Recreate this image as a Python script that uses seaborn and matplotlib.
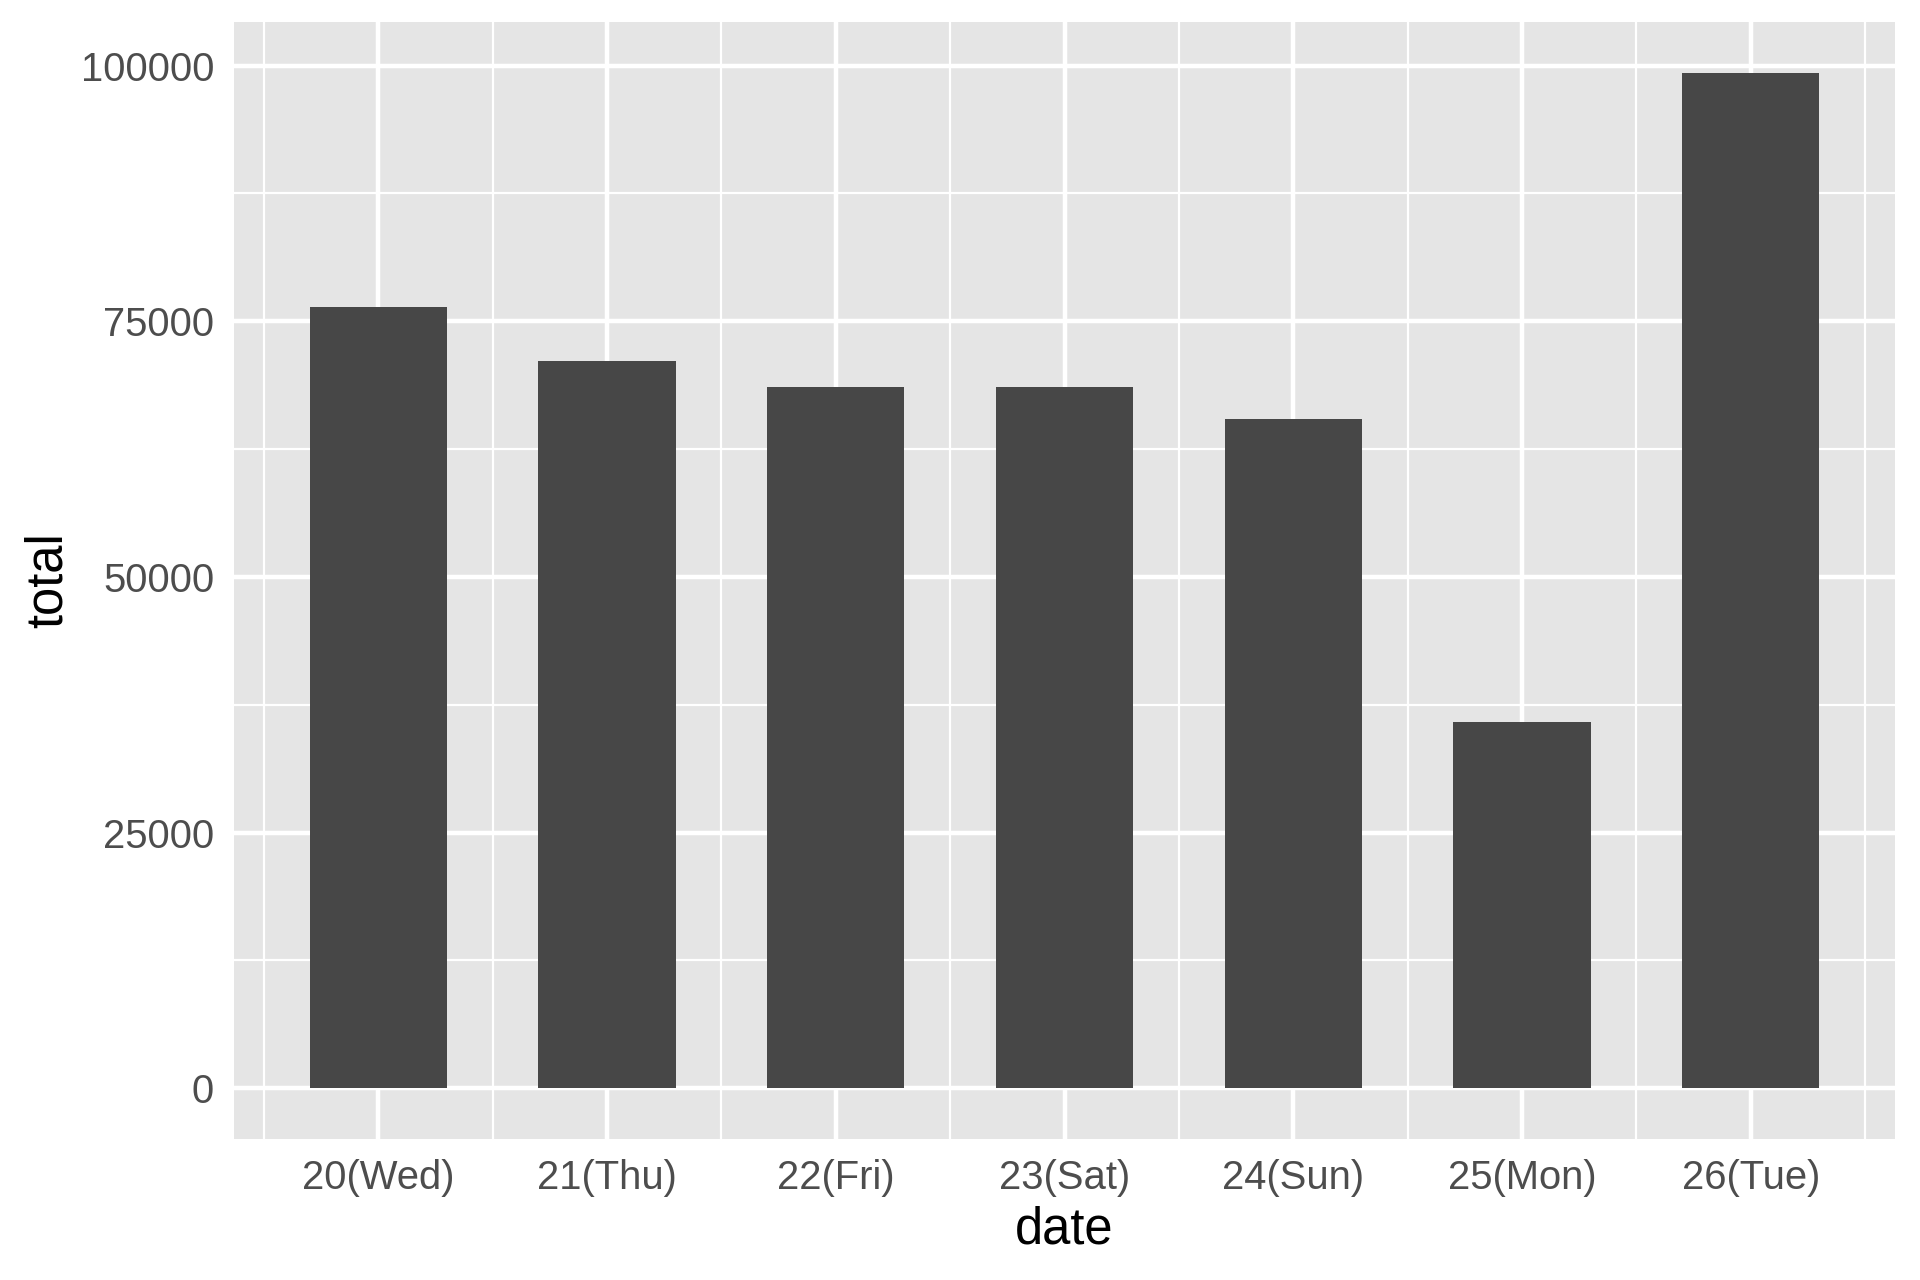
import numpy as np
import pandas as pd
import matplotlib
matplotlib.use('Agg')
import matplotlib.pyplot as plt
import seaborn as sns

# ============================================================
# DATA
# ============================================================
dates = ['20(Wed)', '21(Thu)', '22(Fri)', '23(Sat)', '24(Sun)', '25(Mon)', '26(Tue)']
totals = [76370, 71090, 68540, 68540, 65410, 35840, 99290]
y_ticks = [0, 25000, 50000, 75000, 100000]
y_minor = [12500, 37500, 62500, 87500]

df = pd.DataFrame({'date': dates, 'total': totals})

# ============================================================
# STYLE (ggplot2 theme_grey look)
# ============================================================
sns.set_style('white')
plt.rcParams['font.family'] = ['Liberation Sans', 'DejaVu Sans']

panel_bg = '#E5E5E5'
bar_col = '#474747'
text_col = '#4D4D4D'

fig, ax = plt.subplots(figsize=(6.4, 4.2667), dpi=300)
fig.subplots_adjust(left=234 / 1920, right=1895 / 1920,
                    top=1 - 22 / 1280, bottom=1 - 1139 / 1280)

sns.barplot(data=df, x='date', y='total', color=bar_col, saturation=1,
            width=0.6, errorbar=None, linewidth=0, ax=ax, zorder=3)

ax.set_facecolor(panel_bg)
for s in ax.spines.values():
    s.set_visible(False)

# limits like ggplot expansion
ymax = max(totals)
ax.set_ylim(-0.05 * ymax, 1.05 * ymax)
ax.set_xlim(-0.63, len(dates) - 1 + 0.63)

ax.set_yticks(y_ticks)
ax.set_yticklabels([str(v) for v in y_ticks])
ax.set_yticks(y_minor, minor=True)
ax.set_xticks(range(len(dates)))
ax.set_xticklabels(dates)
ax.set_xticks(np.arange(len(dates) + 1) - 0.5, minor=True)

ax.grid(which='major', color='white', linewidth=1.07, zorder=0)
ax.grid(which='minor', color='white', linewidth=0.53, zorder=0)
ax.set_axisbelow(True)

ax.tick_params(which='major', length=2.75, width=1.1, color='#333333',
               labelsize=9.6, labelcolor=text_col, pad=2.0)
ax.tick_params(which='minor', length=0)

ax.set_xlabel('date', fontsize=12.2, color='black', labelpad=2)
ax.set_ylabel('total', fontsize=12.2, color='black', labelpad=2)

fig.savefig('out.png', dpi=300)
plt.close(fig)
print('saved out.png')
